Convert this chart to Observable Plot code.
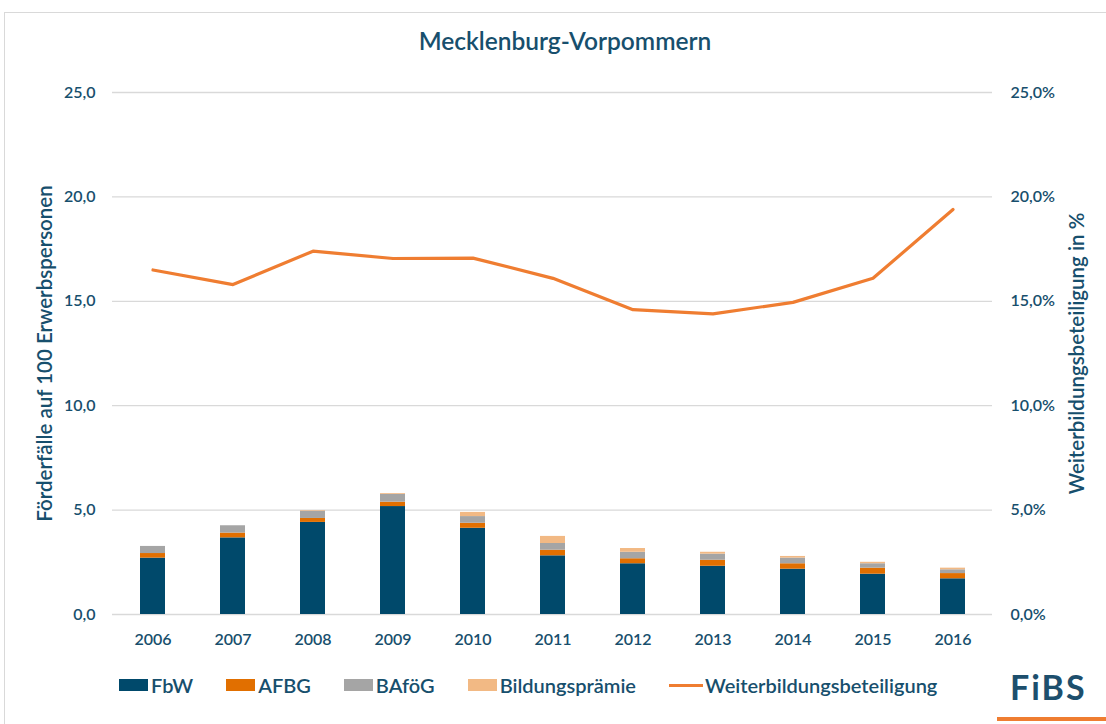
<!DOCTYPE html>
<html>
<head>
<meta charset="utf-8">
<script src="https://cdn.jsdelivr.net/npm/d3@7"></script>
<script src="https://cdn.jsdelivr.net/npm/@observablehq/plot@0.6"></script>
<style>
  html, body { margin: 0; padding: 0; background: #fff; width: 1106px; height: 724px; overflow: hidden; }
  body { font-family: "Source Sans Pro", Lato, "Open Sans", sans-serif; color: #174f6d; }
  #wrap { position: relative; width: 1106px; height: 724px; }
  #frame { position: absolute; left: 4px; top: 12px; width: 1200px; height: 800px; border: 1px solid #d9d9d9; box-sizing: border-box; }
  #title { position: absolute; top: 26px; left: 0; width: 1130px; text-align: center; font-size: 24.5px; font-weight: 600; color: #174f6d; }
  #chart { position: absolute; left: 0; top: 0; }
  #legend { position: absolute; left: 119px; top: 673px; display: flex; align-items: center; font-size: 20px; font-weight: 600; color: #174f6d; }
  .item { display: flex; align-items: center; margin-right: 33px; }
  .sw { width: 29px; height: 12px; margin-right: 3px; }
  .ln { width: 34px; height: 3px; margin-right: 2px; }
  #logo { position: absolute; left: 1010px; top: 666px; font-size: 34px; font-weight: 700; color: #1d4f6d; letter-spacing: 2px; }
  #logoline { position: absolute; left: 997px; top: 717px; width: 110px; height: 4px; background: #ef7d31; }
</style>
</head>
<body>
<div id="wrap">
  <div id="frame"></div>
  <div id="chart"></div>
  <div id="title">Mecklenburg-Vorpommern</div>
  <div id="legend"></div>
  <div id="logo">FiBS</div>
  <div id="logoline"></div>
</div>
<script>
const years = ["2006","2007","2008","2009","2010","2011","2012","2013","2014","2015","2016"];
const fbw     = [2.70, 3.67, 4.41, 5.17, 4.13, 2.81, 2.43, 2.31, 2.17, 1.93, 1.71];
const afbg    = [0.22, 0.23, 0.19, 0.21, 0.24, 0.27, 0.24, 0.29, 0.26, 0.29, 0.25];
const bafoeg  = [0.34, 0.35, 0.35, 0.37, 0.32, 0.32, 0.31, 0.29, 0.27, 0.21, 0.18];
const praemie = [0.00, 0.00, 0.03, 0.04, 0.20, 0.34, 0.18, 0.09, 0.08, 0.07, 0.08];
const beteiligung = [16.5, 15.8, 17.4, 17.05, 17.07, 16.1, 14.6, 14.4, 14.95, 16.1, 19.4];
const seriesNames = ["FbW", "AFBG", "BAföG", "Bildungsprämie"];
const seriesColors = ["#00496b", "#e16f00", "#a5a5a5", "#f2b984"];
const lineName = "Weiterbildungsbeteiligung";
const lineColor = "#ef7d31";
const yTicks = [0, 5, 10, 15, 20, 25];
const yLabelLeft = "Förderfälle auf 100 Erwerbspersonen";
const yLabelRight = "Weiterbildungsbeteiligung in %";

const seriesValues = [fbw, afbg, bafoeg, praemie];
const barData = [];
years.forEach((yr, i) => {
  seriesNames.forEach((s, j) => barData.push({year: yr, series: s, value: seriesValues[j][i]}));
});
const lineData = years.map((yr, i) => ({year: yr, value: beteiligung[i]}));

const fmt = d => d.toFixed(1).replace(".", ",");
const textColor = "#174f6d";
const font = "\"Source Sans Pro\", Lato, \"Open Sans\", sans-serif";

const chart = Plot.plot({
  width: 1106,
  height: 660,
  marginTop: 92,
  marginBottom: 46,
  marginLeft: 112,
  marginRight: 114,
  style: {fontFamily: font, fontSize: "16px", fontWeight: 600, color: textColor, background: "transparent"},
  x: {type: "band", domain: years, paddingInner: 0.69, paddingOuter: 0.345},
  y: {domain: [0, 25]},
  color: {domain: seriesNames, range: seriesColors},
  marks: [
    Plot.gridY(yTicks, {stroke: "#d9d9d9", strokeOpacity: 1, strokeWidth: 1.3}),
    Plot.barY(barData, {x: "year", y: "value", fill: "series"}),
    Plot.lineY(lineData, {x: "year", y: "value", stroke: lineColor, strokeWidth: 3.2}),
    Plot.axisY(yTicks, {anchor: "left", tickSize: 0, tickPadding: 17, tickFormat: fmt, label: null, fill: textColor}),
    Plot.axisY(yTicks, {anchor: "right", tickSize: 0, tickPadding: 18, tickFormat: d => fmt(d) + "%", label: null, fill: textColor}),
    Plot.axisX({tickSize: 0, tickPadding: 19, label: null, fill: textColor}),
    Plot.text([yLabelLeft], {frameAnchor: "left", dx: -67, rotate: -90, textAnchor: "middle", text: d => d, fontSize: 20.5, fill: textColor}),
    Plot.text([yLabelRight], {frameAnchor: "right", dx: 85, rotate: -90, textAnchor: "middle", text: d => d, fontSize: 20.5, fill: textColor})
  ]
});
document.getElementById("chart").appendChild(chart);

const legend = document.getElementById("legend");
seriesNames.forEach((s, j) => {
  const it = document.createElement("div");
  it.className = "item";
  it.innerHTML = `<div class="sw" style="background:${seriesColors[j]}"></div><span>${s}</span>`;
  legend.appendChild(it);
});
const li = document.createElement("div");
li.className = "item";
li.innerHTML = `<div class="ln" style="background:${lineColor}"></div><span>${lineName}</span>`;
legend.appendChild(li);
</script>
</body>
</html>
